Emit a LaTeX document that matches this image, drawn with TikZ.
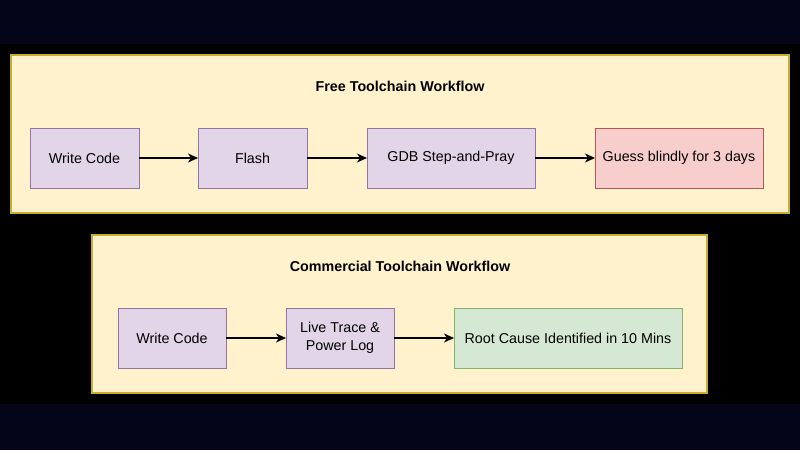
\documentclass[tikz,border=0pt]{standalone}
\usepackage{fontspec}
\setmainfont{Liberation Sans}
\usetikzlibrary{arrows.meta}
\definecolor{navybg}{HTML}{05051A}
\definecolor{grpfill}{HTML}{FFF2CC}
\definecolor{grpdraw}{HTML}{C8AE30}
\definecolor{pfill}{HTML}{E1D5E7}
\definecolor{pdraw}{HTML}{9673A6}
\definecolor{rfill}{HTML}{F8CECC}
\definecolor{rdraw}{HTML}{B85450}
\definecolor{gfill}{HTML}{D5E8D4}
\definecolor{gdraw}{HTML}{82B366}
\tikzset{
  grp/.style={draw=grpdraw, fill=grpfill, line width=1.6pt},
  box/.style={line width=0.8pt, minimum height=60pt, outer sep=0pt, inner sep=0pt,
    align=center, font=\fontsize{14.3}{18.5}\selectfont},
  purplebox/.style={box, draw=pdraw, fill=pfill},
  redbox/.style={box, draw=rdraw, fill=rfill},
  greenbox/.style={box, draw=gdraw, fill=gfill},
  ttl/.style={font=\fontsize{14.3}{17}\selectfont\bfseries, inner sep=0pt},
  flow/.style={-{Stealth[length=10pt,width=9pt,inset=3pt]}, line width=1.2pt, black},
}
\begin{document}
\begin{tikzpicture}[x=1pt,y=-1pt]
\fill[navybg] (0,0) rectangle (800,450);
\fill[black] (0,44) rectangle (800,404);
\useasboundingbox (0,0) rectangle (800,450);
% group 1
\draw[grp] (11,55) rectangle (789,213);
\node[ttl] (t1) at (400,86) {Free Toolchain Workflow};
\node[purplebox, minimum width=109pt] (a1) at (84.5,158) {Write Code};
\node[purplebox, minimum width=109pt] (a2) at (252.5,158) {Flash};
\node[purplebox, minimum width=168pt] (a3) at (451,158) {GDB Step-and-Pray};
\node[redbox, minimum width=168pt] (a4) at (679,158) {Guess blindly for 3 days};
\draw[flow] (a1) -- (a2);
\draw[flow] (a2) -- (a3);
\draw[flow] (a3) -- (a4);
% group 2
\draw[grp] (92,235) rectangle (707,393);
\node[ttl] (t2) at (400,266) {Commercial Toolchain Workflow};
\node[purplebox, minimum width=108pt] (b1) at (172,338) {Write Code};
\node[purplebox, minimum width=108pt] (b2) at (340,338) {Live Trace \&\\Power Log};
\node[greenbox, minimum width=228pt] (b3) at (568,338) {Root Cause Identified in 10 Mins};
\draw[flow] (b1) -- (b2);
\draw[flow] (b2) -- (b3);
\end{tikzpicture}
\end{document}
